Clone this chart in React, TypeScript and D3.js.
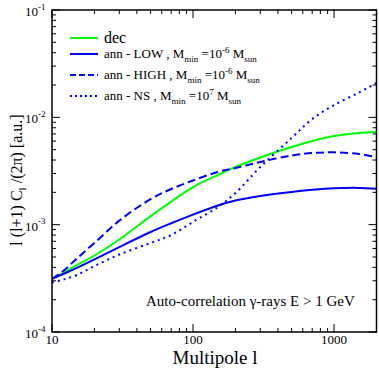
import React, { useEffect, useRef } from 'react';
import * as d3 from 'd3';

// multipole values where the curves were read
const ell = [10, 12, 15, 20, 30, 50, 70, 100, 150, 200, 300, 500, 700, 1000, 1500, 2000];
const decay = [3.12e-4, 3.55e-4, 4.21e-4, 5.16e-4, 7.28e-4, 1.2e-3, 1.64e-3, 2.24e-3, 2.9e-3, 3.45e-3, 4.23e-3, 5.29e-3, 6.02e-3, 6.7e-3, 7.15e-3, 7.3e-3];
const annLow = [3.12e-4, 3.47e-4, 3.95e-4, 4.74e-4, 6.19e-4, 8.55e-4, 1.03e-3, 1.24e-3, 1.51e-3, 1.68e-3, 1.85e-3, 2.02e-3, 2.11e-3, 2.18e-3, 2.2e-3, 2.16e-3];
const annHigh = [3.12e-4, 3.7e-4, 4.84e-4, 6.75e-4, 1.09e-3, 1.73e-3, 2.15e-3, 2.58e-3, 3.1e-3, 3.37e-3, 3.84e-3, 4.41e-3, 4.65e-3, 4.72e-3, 4.55e-3, 4.27e-3];
const annNS = [2.89e-4, 3.08e-4, 3.4e-4, 4.12e-4, 5.27e-4, 6.75e-4, 8.01e-4, 1.06e-3, 1.46e-3, 1.97e-3, 3.45e-3, 6.42e-3, 9.65e-3, 1.3e-2, 1.7e-2, 2.09e-2];

const xMajor = [10, 100, 1000];
const yMajor = [1e-4, 1e-3, 1e-2, 1e-1];
const yExp = ['-4', '-3', '-2', '-1'];

const font = "'Liberation Serif', 'DejaVu Serif', serif";

const App = () => {
  const ref = useRef<SVGSVGElement>(null);

  useEffect(() => {
    const svg = d3.select(ref.current);
    svg.selectAll('*').remove();

    const left = 52, right = 376.5, top = 10, bottom = 332;
    const x = d3.scaleLog().domain([10, 2000]).range([left, right]);
    const y = d3.scaleLog().domain([1e-4, 1e-1]).range([bottom, top]);

    const clip = svg.append('clipPath').attr('id', 'plot-clip');
    clip.append('rect').attr('x', left).attr('y', top).attr('width', right - left).attr('height', bottom - top);

    const line = d3
      .line<number>()
      .x((d, i) => x(ell[i]))
      .y((d) => y(d))
      .curve(d3.curveCatmullRom.alpha(0.5));

    const series = [
      { values: decay, color: '#00ff00', dash: null },
      { values: annLow, color: '#0000ff', dash: null },
      { values: annHigh, color: '#0000ff', dash: '8,4' },
      { values: annNS, color: '#0000ff', dash: '2,4' },
    ];

    const g = svg.append('g').attr('clip-path', 'url(#plot-clip)');
    series.forEach((s) => {
      g.append('path')
        .attr('d', line(s.values))
        .attr('fill', 'none')
        .attr('stroke', s.color)
        .attr('stroke-width', 2)
        .attr('stroke-dasharray', s.dash);
    });

    // ticks on all four sides, pointing inward
    const xMinor: number[] = [];
    [10, 100, 1000].forEach((d) => {
      for (let k = 2; k <= 9; k++) if (d * k <= 2000) xMinor.push(d * k);
    });
    const yMinor: number[] = [];
    [1e-4, 1e-3, 1e-2].forEach((d) => {
      for (let k = 2; k <= 9; k++) yMinor.push(d * k);
    });

    const ticks = svg.append('g').attr('stroke', '#000').attr('stroke-width', 1);
    const xt = (v: number, len: number) => {
      ticks.append('line').attr('x1', x(v)).attr('x2', x(v)).attr('y1', bottom).attr('y2', bottom - len);
      ticks.append('line').attr('x1', x(v)).attr('x2', x(v)).attr('y1', top).attr('y2', top + len);
    };
    const yt = (v: number, len: number) => {
      ticks.append('line').attr('y1', y(v)).attr('y2', y(v)).attr('x1', left).attr('x2', left + len);
      ticks.append('line').attr('y1', y(v)).attr('y2', y(v)).attr('x1', right).attr('x2', right - len);
    };
    xMajor.forEach((v) => xt(v, 8));
    xMinor.forEach((v) => xt(v, 4));
    yMajor.forEach((v) => yt(v, 8));
    yMinor.forEach((v) => yt(v, 4));

    svg.append('rect')
      .attr('x', left).attr('y', top)
      .attr('width', right - left).attr('height', bottom - top)
      .attr('fill', 'none').attr('stroke', '#000').attr('stroke-width', 1.5);

    // tick labels
    xMajor.forEach((v) => {
      svg.append('text')
        .attr('x', x(v)).attr('y', 343.5)
        .attr('text-anchor', 'middle')
        .attr('font-size', 13)
        .text(String(v));
    });
    yMajor.forEach((v, i) => {
      const t = svg.append('text')
        .attr('x', 25).attr('y', y(v) + 6)
        .attr('font-size', 13);
      t.append('tspan').text('10');
      t.append('tspan').attr('dy', -6.5).attr('font-size', 9).text(yExp[i]);
    });

    // axis titles
    svg.append('text')
      .attr('x', 215).attr('y', 364)
      .attr('text-anchor', 'middle')
      .attr('font-size', 19)
      .text('Multipole l');

    const yl = svg.append('text')
      .attr('transform', 'translate(22,180) rotate(-90)')
      .attr('text-anchor', 'middle')
      .attr('font-size', 16);
    yl.append('tspan').text('l (l+1) C');
    yl.append('tspan').attr('dy', 4).attr('font-size', 11).text('l');
    yl.append('tspan').attr('dy', -4).text(' /(2\u03c0) [a.u.]');

    // legend
    const lg = svg.append('g');
    const rows = [
      { yy: 38, color: '#00ff00', dash: null },
      { yy: 54, color: '#0000ff', dash: null },
      { yy: 75, color: '#0000ff', dash: '6,3' },
      { yy: 96, color: '#0000ff', dash: '2,3' },
    ];
    rows.forEach((r) => {
      lg.append('line')
        .attr('x1', 70).attr('x2', 98).attr('y1', r.yy).attr('y2', r.yy)
        .attr('stroke', r.color).attr('stroke-width', 2)
        .attr('stroke-dasharray', r.dash);
    });
    lg.append('text')
      .attr('x', 104).attr('y', 43)
      .attr('font-size', 16)
      .text('dec');

    const entry = (yy: number, name: string, exp: string) => {
      const t = lg.append('text')
        .attr('x', 104).attr('y', yy + 4)
        .attr('font-size', 13);
      t.append('tspan').text(`ann - ${name} ,  M`);
      t.append('tspan').attr('dy', 4).attr('font-size', 9).text('min');
      t.append('tspan').attr('dy', -4).text(' =10');
      t.append('tspan').attr('dy', -5).attr('font-size', 9).text(exp);
      t.append('tspan').attr('dy', 5).text(' M');
      t.append('tspan').attr('dy', 4).attr('font-size', 9).text('sun');
    };
    entry(54, 'LOW', '-6');
    entry(75, 'HIGH', '-6');
    entry(96, 'NS', '7');

    svg.append('text')
      .attr('x', 146).attr('y', 306)
      .attr('font-size', 15)
      .text('Auto-correlation \u03b3-rays E > 1 GeV');
  }, []);

  return (
    <svg
      ref={ref}
      width={379}
      height={370}
      fontFamily={font}
      style={{ position: 'absolute', left: 0, top: 0, background: '#fff' }}
    />
  );
};

export default App;
